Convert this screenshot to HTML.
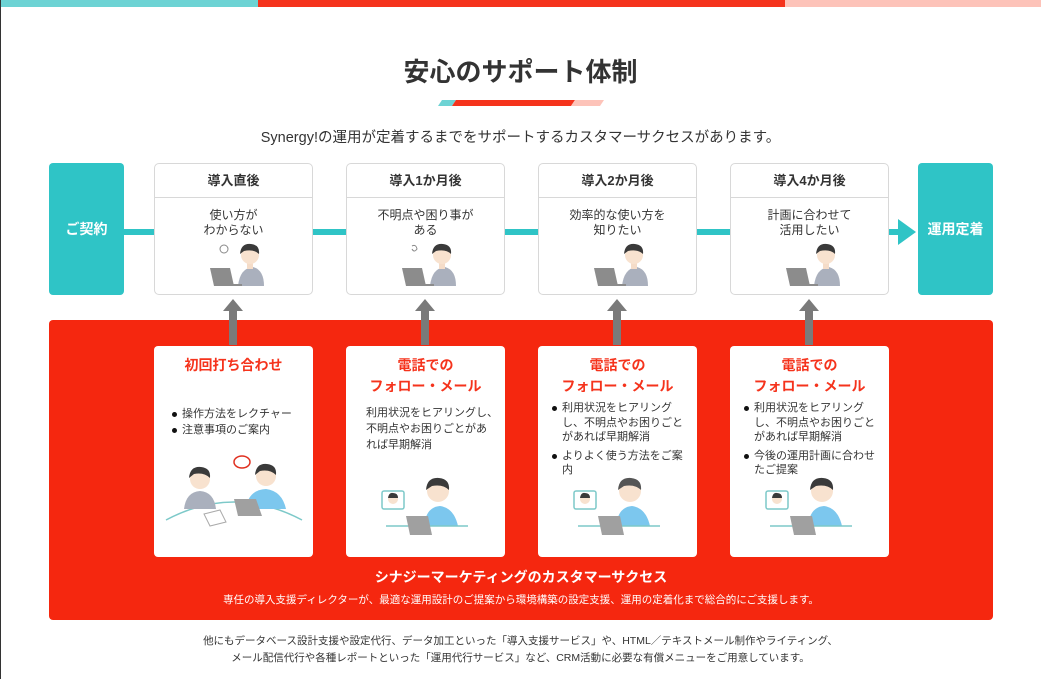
<!DOCTYPE html>
<html><head><meta charset="utf-8"><style>
*{margin:0;padding:0;box-sizing:border-box}
body{width:1041px;height:679px;position:relative;background:#fff;font-family:"Liberation Sans","Noto Sans CJK JP",sans-serif;color:#333;overflow:hidden}
.a{position:absolute}
.teal{background:#2fc4c6}
.side{color:#fff;font-weight:bold;font-size:14px;display:flex;align-items:center;justify-content:center;border-radius:4px}
.stage{background:#fff;border:1.5px solid #d8d8d8;border-radius:5px;width:159px;height:132px;top:163px}
.stage .h{height:34px;border-bottom:1.5px solid #d8d8d8;text-align:center;font-weight:bold;font-size:13px;line-height:34px;color:#333}
.stage .t{text-align:center;font-size:12px;line-height:15px;margin-top:10px}
.card{background:#fff;border-radius:4px;width:159px;height:211px;top:346px}
.card .h{text-align:center;color:#f5331c;font-weight:bold;font-size:14px;line-height:21px;margin-top:9px}
.card ul{list-style:none;font-size:11px;line-height:14.5px;margin:0 0 0 14px;width:135px}
.card li{position:relative;padding-left:10px;margin-bottom:4px}
.card li:before{content:"";position:absolute;left:0;top:5px;width:5px;height:5px;border-radius:50%;background:#111}
.card p{font-size:11px;line-height:16px;margin-left:20px}
.arr{position:absolute;top:299px;width:20px;height:46px}
</style></head><body>
<div class="a" style="left:0;top:0;width:258px;height:7px;background:#6dd3d4"></div>
<div class="a" style="left:258px;top:0;width:527px;height:7px;background:#f5331c"></div>
<div class="a" style="left:785px;top:0;width:256px;height:7px;background:#fdc3b9"></div>
<div class="a" style="left:0;top:0;width:1px;height:679px;background:#333"></div>

<div class="a" style="left:0;width:1041px;top:52px;text-align:center;font-size:26px;font-weight:bold;color:#333">安心のサポート体制</div>
<svg class="a" style="left:438px;top:100px" width="166" height="6"><polygon points="4,0 18,0 14,6 0,6" fill="#6dd3d4"/><polygon points="18,0 137,0 133,6 14,6" fill="#f5331c"/><polygon points="137,0 166,0 162,6 133,6" fill="#fdc3b9"/></svg>
<div class="a" style="left:0;width:1041px;top:126px;text-align:center;font-size:14.5px;color:#333">Synergy!の運用が定着するまでをサポートするカスタマーサクセスがあります。</div>

<div class="a teal" style="left:120px;top:229px;width:782px;height:6px"></div>
<svg class="a" style="left:898px;top:219px" width="18" height="26"><polygon points="0,0 18,13 0,26" fill="#2fc4c6"/></svg>
<div class="a teal side" style="left:49px;top:163px;width:75px;height:132px">ご契約</div>
<div class="a teal side" style="left:918px;top:163px;width:75px;height:132px">運用定着</div>

<div class="a stage" style="left:154px"><div class="h">導入直後</div><div class="t">使い方が<br>わからない</div></div>
<div class="a stage" style="left:346px"><div class="h">導入1か月後</div><div class="t">不明点や困り事が<br>ある</div></div>
<div class="a stage" style="left:538px"><div class="h">導入2か月後</div><div class="t">効率的な使い方を<br>知りたい</div></div>
<div class="a stage" style="left:730px"><div class="h">導入4か月後</div><div class="t">計画に合わせて<br>活用したい</div></div>

<svg class="a" style="left:208px;top:240px" width="56" height="46"><g>
<path d="M30 46 Q32 28 45 27 Q56 30 56 46Z" fill="#aab0bd"/><rect x="39" y="22" width="6" height="7" fill="#f5dcc8"/>
<circle cx="42" cy="15" r="9" fill="#f8e2cf"/><path d="M32 14 Q33 3 43 4 Q52 5 51 14 Q46 9 36 11Z" fill="#3a3a3a"/>
<polygon points="2,28 22,28 26,46 6,46" fill="#8c8c8c"/><rect x="6" y="44" width="28" height="2" fill="#8c8c8c"/></g>
<circle cx="16" cy="9" r="4" fill="none" stroke="#888"/></svg>
<svg class="a" style="left:400px;top:240px" width="56" height="46"><g>
<path d="M30 46 Q32 28 45 27 Q56 30 56 46Z" fill="#aab0bd"/><rect x="39" y="22" width="6" height="7" fill="#f5dcc8"/>
<circle cx="42" cy="15" r="9" fill="#f8e2cf"/><path d="M32 14 Q33 3 43 4 Q52 5 51 14 Q46 9 36 11Z" fill="#3a3a3a"/>
<polygon points="2,28 22,28 26,46 6,46" fill="#8c8c8c"/><rect x="6" y="44" width="28" height="2" fill="#8c8c8c"/></g>
<path d="M12 6 q4 -2 5 3 q-3 4 -5 0" fill="none" stroke="#888"/></svg>
<svg class="a" style="left:592px;top:240px" width="56" height="46"><g>
<path d="M30 46 Q32 28 45 27 Q56 30 56 46Z" fill="#aab0bd"/><rect x="39" y="22" width="6" height="7" fill="#f5dcc8"/>
<circle cx="42" cy="15" r="9" fill="#f8e2cf"/><path d="M32 14 Q33 3 43 4 Q52 5 51 14 Q46 9 36 11Z" fill="#3a3a3a"/>
<polygon points="2,28 22,28 26,46 6,46" fill="#8c8c8c"/><rect x="6" y="44" width="28" height="2" fill="#8c8c8c"/></g></svg>
<svg class="a" style="left:784px;top:240px" width="56" height="46"><g>
<path d="M30 46 Q32 28 45 27 Q56 30 56 46Z" fill="#aab0bd"/><rect x="39" y="22" width="6" height="7" fill="#f5dcc8"/>
<circle cx="42" cy="15" r="9" fill="#f8e2cf"/><path d="M32 14 Q33 3 43 4 Q52 5 51 14 Q46 9 36 11Z" fill="#3a3a3a"/>
<polygon points="2,28 22,28 26,46 6,46" fill="#8c8c8c"/><rect x="6" y="44" width="28" height="2" fill="#8c8c8c"/></g></svg>

<div class="a" style="left:49px;top:320px;width:944px;height:300px;background:#f5270f;border-radius:4px"></div>
<svg class="arr" style="left:223px"><polygon points="10,0 20,12 14,12 14,46 6,46 6,12 0,12" fill="#7a7a7a"/></svg>
<svg class="arr" style="left:415px"><polygon points="10,0 20,12 14,12 14,46 6,46 6,12 0,12" fill="#7a7a7a"/></svg>
<svg class="arr" style="left:607px"><polygon points="10,0 20,12 14,12 14,46 6,46 6,12 0,12" fill="#7a7a7a"/></svg>
<svg class="arr" style="left:799px"><polygon points="10,0 20,12 14,12 14,46 6,46 6,12 0,12" fill="#7a7a7a"/></svg>

<div class="a card" style="left:154px"><div class="h">初回打ち合わせ</div>
<ul style="margin-top:31px;margin-left:18px"><li style="margin-bottom:1px">操作方法をレクチャー</li><li>注意事項のご案内</li></ul>
<svg class="a" style="left:10px;top:108px" width="140" height="75">
<path d="M2 66 Q70 30 138 66" fill="none" stroke="#7dc9c9" stroke-width="1.5"/>
<path d="M20 55 Q22 38 36 37 Q50 38 52 55Z" fill="#aab0bd"/><circle cx="36" cy="25" r="10" fill="#f8e2cf"/><path d="M25 24 Q26 12 37 13 Q47 14 46 24 Q40 18 30 20Z" fill="#3a3a3a"/>
<path d="M82 55 Q84 36 102 35 Q118 37 122 55Z" fill="#7cc7ee"/><circle cx="102" cy="22" r="10" fill="#f8e2cf"/><path d="M91 21 Q92 9 103 10 Q113 11 112 21 Q106 15 96 17Z" fill="#3a3a3a"/>
<ellipse cx="78" cy="8" rx="8" ry="6" fill="none" stroke="#e03020" stroke-width="1.5"/>
<polygon points="70,45 92,45 98,62 74,62" fill="#a0a0a0"/>
<polygon points="40,60 56,56 62,68 46,72" fill="#fff" stroke="#aaa"/></svg></div>

<div class="a card" style="left:346px"><div class="h">電話での<br>フォロー・メール</div>
<p style="margin-top:8px">利用状況をヒアリングし、<br>不明点やお困りごとがあ<br>れば早期解消</p>
<svg class="a" style="left:30px;top:125px" width="100" height="68">
<rect x="6" y="20" width="22" height="18" rx="2" fill="#fff" stroke="#7dc9c9" stroke-width="1.5"/><circle cx="17" cy="28" r="5" fill="#f8e2cf"/><path d="M12 27 Q13 21 17 22 Q22 22 22 27Z" fill="#3a3a3a"/>
<path d="M48 55 Q50 36 64 35 Q78 37 82 55Z" fill="#7cc7ee"/><circle cx="62" cy="20" r="11" fill="#f8e2cf"/><path d="M50 19 Q51 6 63 7 Q74 8 73 19 Q67 13 56 15Z" fill="#3a3a3a"/>
<line x1="10" y1="55" x2="92" y2="55" stroke="#7dc9c9" stroke-width="1.5"/><polygon points="30,45 52,45 56,64 34,64" fill="#a0a0a0"/></svg></div>

<div class="a card" style="left:538px"><div class="h">電話での<br>フォロー・メール</div>
<ul style="margin-top:4px"><li>利用状況をヒアリングし、不明点やお困りごとがあれば早期解消</li><li>よりよく使う方法をご案内</li></ul>
<svg class="a" style="left:30px;top:125px" width="100" height="68">
<rect x="6" y="20" width="22" height="18" rx="2" fill="#fff" stroke="#7dc9c9" stroke-width="1.5"/><circle cx="17" cy="28" r="5" fill="#f8e2cf"/><path d="M12 27 Q13 21 17 22 Q22 22 22 27Z" fill="#3a3a3a"/>
<path d="M48 55 Q50 36 64 35 Q78 37 82 55Z" fill="#7cc7ee"/><circle cx="62" cy="20" r="11" fill="#f8e2cf"/><path d="M50 19 Q51 6 63 7 Q74 8 73 19 Q67 13 56 15Z" fill="#555"/>
<line x1="10" y1="55" x2="92" y2="55" stroke="#7dc9c9" stroke-width="1.5"/><polygon points="30,45 52,45 56,64 34,64" fill="#a0a0a0"/></svg></div>

<div class="a card" style="left:730px"><div class="h">電話での<br>フォロー・メール</div>
<ul style="margin-top:4px"><li>利用状況をヒアリングし、不明点やお困りごとがあれば早期解消</li><li>今後の運用計画に合わせたご提案</li></ul>
<svg class="a" style="left:30px;top:125px" width="100" height="68">
<rect x="6" y="20" width="22" height="18" rx="2" fill="#fff" stroke="#7dc9c9" stroke-width="1.5"/><circle cx="17" cy="28" r="5" fill="#f8e2cf"/><path d="M12 27 Q13 21 17 22 Q22 22 22 27Z" fill="#3a3a3a"/>
<path d="M48 55 Q50 36 64 35 Q78 37 82 55Z" fill="#7cc7ee"/><circle cx="62" cy="20" r="11" fill="#f8e2cf"/><path d="M50 19 Q51 6 63 7 Q74 8 73 19 Q67 13 56 15Z" fill="#3a3a3a"/>
<line x1="10" y1="55" x2="92" y2="55" stroke="#7dc9c9" stroke-width="1.5"/><polygon points="30,45 52,45 56,64 34,64" fill="#a0a0a0"/></svg></div>

<div class="a" style="left:49px;width:944px;top:567px;text-align:center;color:#fff;font-weight:bold;font-size:14px">シナジーマーケティングのカスタマーサクセス</div>
<div class="a" style="left:49px;width:944px;top:592px;text-align:center;color:#fff;font-size:10.5px">専任の導入支援ディレクターが、最適な運用設計のご提案から環境構築の設定支援、運用の定着化まで総合的にご支援します。</div>

<div class="a" style="left:0;width:1041px;top:633px;text-align:center;font-size:10.5px;line-height:17px;color:#333">他にもデータベース設計支援や設定代行、データ加工といった「導入支援サービス」や、HTML／テキストメール制作やライティング、<br>メール配信代行や各種レポートといった「運用代行サービス」など、CRM活動に必要な有償メニューをご用意しています。</div>
</body></html>
